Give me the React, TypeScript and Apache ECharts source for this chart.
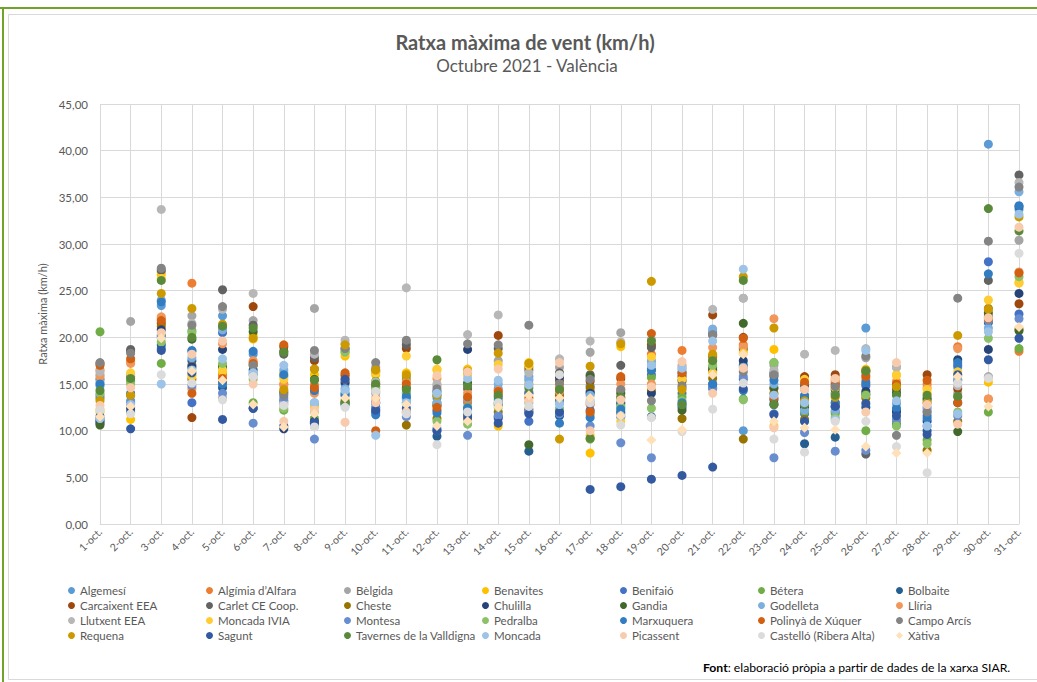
import React, { useEffect, useRef } from "react";
import * as echarts from "echarts";

const days = ["1-oct.", "2-oct.", "3-oct.", "4-oct.", "5-oct.", "6-oct.", "7-oct.", "8-oct.", "9-oct.", "10-oct.",
  "11-oct.", "12-oct.", "13-oct.", "14-oct.", "15-oct.", "16-oct.", "17-oct.", "18-oct.", "19-oct.", "20-oct.",
  "21-oct.", "22-oct.", "23-oct.", "24-oct.", "25-oct.", "26-oct.", "27-oct.", "28-oct.", "29-oct.", "30-oct.", "31-oct."];

const yTicks = [0, 5, 10, 15, 20, 25, 30, 35, 40, 45];

const algemesi = [14.8, 13.2, 23.4, 18.5, 22.3, 18.2, 15.8, 12.8, 15.0, 13.0, 14.0, 13.5, 13.0, 14.5, 15.8, 14.0, 14.8, 12.8, 17.0, 14.6, 20.6, 10.0, 16.0, 13.5, 14.0, 21.0, 14.0, 12.5, 16.8, 40.7, 33.7];
const algimia = [16.5, 17.4, 22.0, 25.8, 16.0, 17.3, 15.0, 14.9, 15.8, 14.2, 15.5, 12.8, 13.2, 14.0, 15.0, 14.6, 12.8, 14.3, 18.2, 18.6, 17.5, 19.2, 14.5, 15.0, 15.2, 15.0, 13.0, 15.0, 19.0, 13.4, 18.5];
const belgida = [16.0, 21.7, 27.0, 22.3, 13.5, 21.8, 12.8, 23.1, 19.3, 16.8, 19.5, 14.8, 15.0, 17.5, 15.4, 16.8, 18.4, 20.5, 17.4, 16.0, 20.2, 24.2, 17.0, 13.0, 14.0, 17.8, 16.8, 12.0, 14.0, 15.8, 30.4];
const benavites = [12.0, 11.2, 26.7, 16.0, 16.3, 20.2, 16.2, 16.0, 18.0, 16.0, 16.2, 16.5, 16.6, 10.5, 17.3, 15.2, 7.6, 19.0, 19.0, 15.2, 16.4, 18.6, 18.7, 15.6, 15.6, 16.2, 16.0, 14.0, 16.0, 15.2, 25.9];
const benifaio = [11.2, 12.3, 18.8, 13.0, 20.5, 16.0, 14.0, 10.5, 12.8, 12.5, 13.0, 10.2, 12.2, 11.3, 11.0, 12.2, 12.2, 11.5, 16.0, 14.0, 15.0, 15.5, 11.8, 11.8, 12.0, 14.8, 12.2, 11.6, 17.0, 28.1, 22.5];
const betera = [20.6, 15.3, 17.2, 20.7, 17.0, 13.0, 12.2, 11.3, 18.5, 15.3, 15.8, 13.0, 12.5, 13.3, 14.0, 12.3, 9.1, 11.8, 15.7, 13.6, 17.8, 13.4, 17.3, 12.0, 11.8, 10.0, 11.0, 9.0, 13.6, 12.0, 18.8];
const bolbaite = [10.8, 12.0, 19.2, 17.5, 14.6, 16.5, 13.2, 10.8, 13.8, 12.0, 13.5, 9.4, 11.8, 13.0, 7.8, 11.6, 14.2, 12.0, 11.5, 12.5, 14.6, 17.0, 13.3, 8.6, 9.3, 12.5, 10.6, 10.0, 13.0, 21.6, 34.0];
const carcaixent = [17.2, 18.5, 21.5, 11.4, 15.3, 23.3, 19.0, 17.5, 16.0, 15.0, 18.8, 12.2, 16.2, 20.2, 12.3, 15.3, 15.3, 15.6, 19.2, 15.8, 22.4, 20.0, 15.8, 15.8, 16.0, 16.4, 15.0, 16.0, 14.5, 22.2, 23.6];
const carlet = [15.5, 18.7, 27.2, 17.0, 25.1, 21.3, 18.2, 17.8, 18.8, 16.3, 19.2, 13.8, 14.5, 18.8, 16.5, 16.2, 16.0, 17.0, 18.9, 16.2, 20.3, 18.8, 16.2, 14.8, 15.0, 7.5, 14.4, 13.5, 15.4, 26.1, 37.4];
const cheste = [13.5, 13.8, 21.2, 15.5, 21.0, 17.0, 14.2, 16.6, 13.2, 16.5, 10.6, 11.3, 11.2, 12.0, 16.8, 13.8, 14.6, 13.5, 14.3, 11.3, 15.6, 9.1, 14.0, 11.2, 13.0, 13.5, 13.0, 7.9, 11.0, 23.1, 20.9];
const chulilla = [11.0, 12.5, 20.8, 16.8, 18.7, 12.4, 10.2, 11.0, 15.2, 13.0, 12.0, 14.2, 18.7, 11.5, 12.0, 15.7, 14.0, 13.0, 14.0, 15.4, 16.5, 17.5, 12.8, 12.5, 12.6, 14.2, 12.0, 11.0, 17.6, 18.7, 24.7];
const gandia = [10.6, 15.8, 20.2, 19.8, 16.8, 20.6, 18.5, 15.5, 13.0, 14.7, 14.6, 12.7, 15.1, 12.8, 8.5, 13.2, 15.8, 14.0, 16.5, 12.2, 16.8, 21.5, 14.6, 13.5, 14.4, 13.9, 14.0, 13.3, 9.9, 22.6, 20.7];
const godelleta = [15.2, 13.0, 24.0, 17.8, 20.8, 16.2, 16.5, 13.0, 14.5, 14.0, 13.3, 13.0, 13.5, 15.0, 15.5, 13.0, 13.8, 12.5, 17.5, 16.5, 20.9, 16.8, 15.0, 12.2, 12.2, 16.0, 12.9, 12.3, 15.5, 21.0, 35.6];
const lliria = [15.8, 17.2, 22.2, 14.5, 19.3, 17.5, 14.9, 14.0, 15.5, 13.5, 15.2, 15.6, 14.0, 14.3, 14.2, 14.2, 13.0, 15.0, 15.0, 17.0, 18.9, 19.0, 22.0, 14.4, 15.4, 15.5, 15.3, 14.6, 18.8, 13.4, 27.0];
const llutxent = [16.3, 16.0, 33.7, 21.5, 23.0, 24.7, 13.0, 18.2, 19.7, 15.2, 25.3, 15.0, 20.3, 22.4, 16.2, 17.7, 19.6, 19.5, 19.8, 16.8, 23.0, 24.2, 16.5, 18.2, 18.6, 18.8, 16.8, 13.0, 14.8, 15.7, 36.6];
const moncadaIvia = [12.3, 16.2, 26.3, 15.8, 16.5, 19.8, 15.5, 12.5, 18.3, 16.2, 18.0, 16.6, 16.0, 17.1, 17.0, 15.0, 9.5, 11.0, 17.9, 15.5, 16.2, 18.3, 10.5, 15.5, 14.6, 16.6, 15.9, 14.4, 16.3, 24.0, 25.8];
const montesa = [13.8, 13.0, 20.0, 14.8, 14.0, 10.8, 13.5, 9.1, 12.8, 12.3, 11.5, 10.0, 9.5, 11.6, 12.0, 11.8, 10.5, 8.7, 7.1, 12.8, 14.5, 15.8, 7.1, 9.8, 7.8, 7.9, 11.2, 10.5, 11.6, 21.8, 22.0];
const pedralba = [14.0, 15.0, 19.5, 20.5, 17.2, 15.5, 12.4, 12.0, 18.4, 14.5, 14.0, 11.0, 10.7, 12.5, 13.0, 12.3, 11.8, 12.6, 12.4, 13.2, 17.0, 13.3, 17.3, 11.0, 11.4, 13.8, 10.5, 8.6, 12.0, 19.9, 26.5];
const marxuquera = [15.0, 14.0, 23.8, 18.6, 15.0, 18.5, 16.0, 14.3, 14.0, 11.7, 13.7, 11.9, 12.4, 13.6, 14.0, 10.8, 11.4, 12.3, 16.5, 13.0, 15.0, 14.3, 15.4, 13.8, 13.0, 15.2, 12.4, 11.3, 17.3, 26.8, 34.1];
const polinya = [17.0, 17.7, 21.8, 14.0, 15.6, 17.2, 19.2, 14.6, 16.2, 10.0, 15.0, 12.5, 13.6, 14.2, 13.5, 14.4, 12.0, 15.8, 20.4, 16.2, 18.0, 19.9, 13.5, 15.2, 14.8, 15.8, 15.0, 15.4, 13.0, 22.0, 26.9];
const campoArcis = [17.3, 18.3, 27.4, 21.3, 23.3, 17.0, 13.8, 18.6, 18.8, 17.3, 19.7, 14.5, 19.3, 19.2, 21.3, 15.0, 15.5, 14.4, 13.2, 14.8, 20.3, 16.3, 16.0, 12.8, 14.7, 18.0, 9.5, 12.0, 24.2, 30.3, 36.1];
const requena = [13.2, 13.8, 24.7, 23.1, 21.4, 19.9, 14.4, 16.6, 19.2, 16.5, 16.0, 13.8, 16.4, 18.3, 17.2, 9.1, 16.9, 19.3, 26.0, 14.4, 18.2, 26.5, 21.0, 13.2, 13.6, 16.5, 14.7, 13.0, 20.2, 23.0, 32.9];
const sagunt = [11.5, 10.2, 18.6, 16.2, 11.2, 12.4, 10.5, 10.9, 15.5, 12.2, 12.4, 10.0, 11.5, 10.8, 11.8, 12.0, 3.7, 4.0, 4.8, 5.2, 6.1, 14.5, 11.7, 11.0, 12.6, 12.9, 11.6, 9.6, 16.0, 17.6, 19.9];
const tavernes = [14.3, 15.6, 26.1, 20.0, 21.2, 21.0, 18.4, 15.4, 13.0, 15.0, 14.4, 17.6, 14.8, 13.8, 14.6, 14.4, 9.2, 13.6, 19.6, 12.8, 17.5, 26.1, 12.8, 12.8, 13.8, 16.4, 13.8, 13.8, 13.7, 33.8, 31.4];
const moncada = [11.3, 12.8, 15.0, 16.5, 17.7, 16.2, 17.0, 13.0, 14.3, 9.5, 13.0, 14.0, 15.6, 15.4, 14.9, 12.8, 13.2, 11.6, 17.0, 16.7, 19.6, 27.3, 13.8, 13.0, 11.2, 18.6, 13.2, 10.5, 11.8, 20.6, 33.2];
const picassent = [12.7, 14.6, 20.5, 18.2, 19.6, 15.0, 11.0, 12.2, 10.9, 13.0, 12.0, 15.9, 16.3, 16.6, 13.2, 17.3, 10.0, 13.3, 14.7, 17.4, 14.0, 16.7, 10.3, 14.4, 15.6, 12.0, 17.3, 12.8, 10.7, 22.1, 31.8];
const castello = [12.2, 11.8, 16.0, 15.1, 13.3, 15.8, 12.7, 10.4, 12.5, 14.2, 11.8, 8.5, 12.0, 13.0, 12.6, 16.0, 13.0, 10.6, 11.4, 9.9, 12.3, 15.1, 9.1, 7.7, 11.0, 11.0, 8.3, 5.5, 15.1, 15.6, 29.0];
const xativa = [11.5, 12.6, 19.9, 16.4, 15.4, 12.8, 10.4, 11.8, 13.5, 13.5, 12.8, 10.5, 11.0, 12.5, 13.8, 13.5, 13.5, 11.6, 9.0, 10.1, 16.0, 18.2, 11.0, 10.3, 10.1, 8.3, 7.6, 7.6, 15.8, 12.6, 21.1];

const stations = [
  "Algemesí", "Algímia d’Alfara", "Bèlgida", "Benavites", "Benifaió", "Bétera", "Bolbaite",
  "Carcaixent EEA", "Carlet CE Coop.", "Cheste", "Chulilla", "Gandia", "Godelleta", "Llíria",
  "Llutxent EEA", "Moncada IVIA", "Montesa", "Pedralba", "Marxuquera", "Polinyà de Xúquer", "Campo Arcís",
  "Requena", "Sagunt", "Tavernes de la Valldigna", "Moncada", "Picassent", "Castelló (Ribera Alta)", "Xàtiva",
];

const values = [
  algemesi, algimia, belgida, benavites, benifaio, betera, bolbaite,
  carcaixent, carlet, cheste, chulilla, gandia, godelleta, lliria,
  llutxent, moncadaIvia, montesa, pedralba, marxuquera, polinya, campoArcis,
  requena, sagunt, tavernes, moncada, picassent, castello, xativa,
];

const colors = [
  "#5B9BD5", "#ED7D31", "#A5A5A5", "#FFC000", "#4472C4", "#70AD47", "#255E91",
  "#9E480E", "#636363", "#997300", "#264478", "#43682B", "#7CAFDD", "#F1975A",
  "#B7B7B7", "#FFCD33", "#698ED0", "#8CC168", "#327DC2", "#D26012", "#848484",
  "#CC9A00", "#335AA1", "#5A8A39", "#9DC3E6", "#F8CBAD", "#DBDBDB", "#FFE0B8",
];

const FONT = "Lato, 'Open Sans', sans-serif";
const TXT = "#595959";

export default function App() {
  const ref = useRef<HTMLDivElement>(null);

  useEffect(() => {
    if (!ref.current) return;
    const chart = echarts.init(ref.current, undefined, { renderer: "svg" });

    const series = stations.map((name, i) => ({
      name,
      type: "scatter",
      data: values[i],
      symbol: i === 27 ? "diamond" : "circle",
      symbolSize: i === 27 ? 10 : 9,
      itemStyle: { color: colors[i], opacity: 1 },
      emphasis: { disabled: true },
    }));

    const legends = [0, 1, 2, 3, 4, 5, 6].map((c) => ({
      orient: "vertical",
      left: 63 + c * 138,
      top: 578,
      itemWidth: 7,
      itemHeight: 7,
      itemGap: 0,
      selectedMode: false,
      textStyle: { fontFamily: FONT, fontSize: 11.5, color: TXT, lineHeight: 15, padding: [0, 0, 0, 0] },
      data: [0, 1, 2, 3].map((r) => {
        const idx = r * 7 + c;
        return { name: stations[idx], icon: idx === 27 ? "diamond" : "circle" };
      }),
    }));

    chart.setOption({
      animation: false,
      backgroundColor: "#ffffff",
      color: colors,
      grid: { left: 100, right: 18, top: 104, bottom: 158, containLabel: false },
      xAxis: {
        type: "category",
        data: days,
        boundaryGap: false,
        axisLine: { show: true, lineStyle: { color: "#D9D9D9" } },
        axisTick: { show: false },
        splitLine: { show: true, lineStyle: { color: "#D9D9D9", width: 1 } },
        axisLabel: { interval: 0, rotate: 45, fontFamily: FONT, fontSize: 10.5, color: "#595959", margin: 6 },
      },
      yAxis: {
        type: "value",
        min: yTicks[0],
        max: yTicks[yTicks.length - 1],
        interval: 5,
        name: "Ratxa màxima (km/h)",
        nameLocation: "middle",
        nameGap: 50,
        nameTextStyle: { fontFamily: FONT, fontSize: 11, color: TXT },
        axisLine: { show: false },
        axisTick: { show: false },
        splitLine: { show: true, lineStyle: { color: "#D9D9D9", width: 1 } },
        axisLabel: {
          fontFamily: FONT, fontSize: 11.5, color: TXT, margin: 12,
          formatter: (v: number) => v.toFixed(2).replace(".", ","),
        },
      },
      legend: legends,
      series,
      graphic: [
        { type: "line", shape: { x1: 0, y1: 8, x2: 1037, y2: 8 }, style: { stroke: "#6FA32A", lineWidth: 2 }, silent: true },
        { type: "line", shape: { x1: 3, y1: 7, x2: 3, y2: 682 }, style: { stroke: "#6FA32A", lineWidth: 2 }, silent: true },
        { type: "rect", shape: { x: 8.5, y: 14.5, width: 1040, height: 665 }, style: { fill: "none", stroke: "#D9D9D9", lineWidth: 1 }, silent: true },
        {
          type: "text", x: 525, y: 42,
          style: { text: "Ratxa màxima de vent (km/h)", fontFamily: FONT, fontSize: 20, fontWeight: "bold", fill: TXT, align: "center", verticalAlign: "middle" },
        },
        {
          type: "text", x: 527, y: 65,
          style: { text: "Octubre 2021 - València", fontFamily: FONT, fontSize: 17, fill: TXT, align: "center", verticalAlign: "middle" },
        },
        {
          type: "text", x: 703, y: 667,
          style: {
            text: "{b|Font}: elaboració pròpia a partir de dades de la xarxa SIAR.",
            fontFamily: FONT, fontSize: 12.2, fill: "#000000", align: "left", verticalAlign: "middle",
            rich: { b: { fontFamily: FONT, fontSize: 12.2, fontWeight: "bold", fill: "#000000" } },
          },
        },
      ],
    });

    return () => chart.dispose();
  }, []);

  return (
    <div
      ref={ref}
      style={{ position: "fixed", left: 0, top: 0, width: 1037, height: 682, background: "#fff" }}
    />
  );
}
